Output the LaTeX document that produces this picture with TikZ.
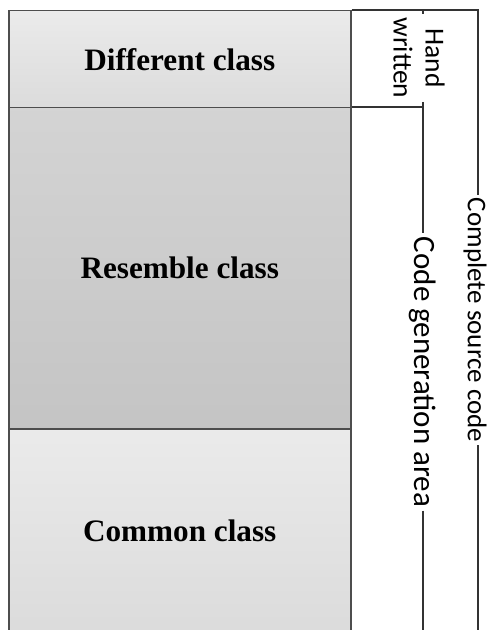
\documentclass[tikz,border=0pt]{standalone}
\usepackage{fontspec}
\setmainfont{Liberation Serif}
\newfontfamily\calfont{Carlito}
\usepackage{tikz}
\usetikzlibrary{calc}
\definecolor{boxline}{HTML}{4D4D4D}
\definecolor{brline}{HTML}{333333}
\tikzset{every picture/.style={>=stealth},
  classbox/.style={draw=boxline, line width=0.75pt, anchor=north west, inner sep=0pt,
    minimum width=171pt, font=\bfseries\fontsize{15.6}{18}\selectfont},
  lightbox/.style={classbox, top color=black!8, bottom color=black!14},
  darkbox/.style={classbox, top color=black!17, bottom color=black!23},
  brace/.style={draw=brline, line width=0.6pt},
  sidelabel/.style={rotate=-90, inner xsep=1.5pt, inner ysep=0pt, align=center}}

\begin{document}
\begin{tikzpicture}[x=0.5pt,y=-0.5pt]
  \useasboundingbox (0,0) rectangle (487,630);
  \node (diff) [lightbox, minimum height=48.5pt] at (8,10) {Different class};
  \node (res) [darkbox, minimum height=160.5pt] at (8,107) {Resemble class};
  \node (com) [lightbox, minimum height=102pt] at (8,428) {Common class};
  \coordinate (hwtop) at (423,10);
  \coordinate (hwbot) at (423,107);
  \coordinate (cstop) at (478,10);
  \coordinate (csbot) at (478,634);
  \coordinate (cgbot) at (423,634);
  \node (hw) [sidelabel, font=\calfont\fontsize{13.75}{16}\selectfont] at (419,58) {Hand\\written};
  \node (cg) [sidelabel, font=\calfont\fontsize{15.5}{18}\selectfont] at (423,372) {Code generation area};
  \node (cs) [sidelabel, font=\calfont\fontsize{13.5}{16}\selectfont] at (475,320) {Complete source code};
  \draw [brace] (diff.north east) -- (cstop) -- (cstop |- cs.west);
  \draw [brace] (csbot |- cs.east) -- (csbot);
  \draw [brace] (hwtop) -- (hwtop |- hw.west);
  \draw [brace] (hwbot |- hw.east) -- (hwbot);
  \draw [brace] (res.north east) -- (hwbot) -- (cg.west);
  \draw [brace] (cg.east) -- (cgbot);
\end{tikzpicture}
\end{document}
